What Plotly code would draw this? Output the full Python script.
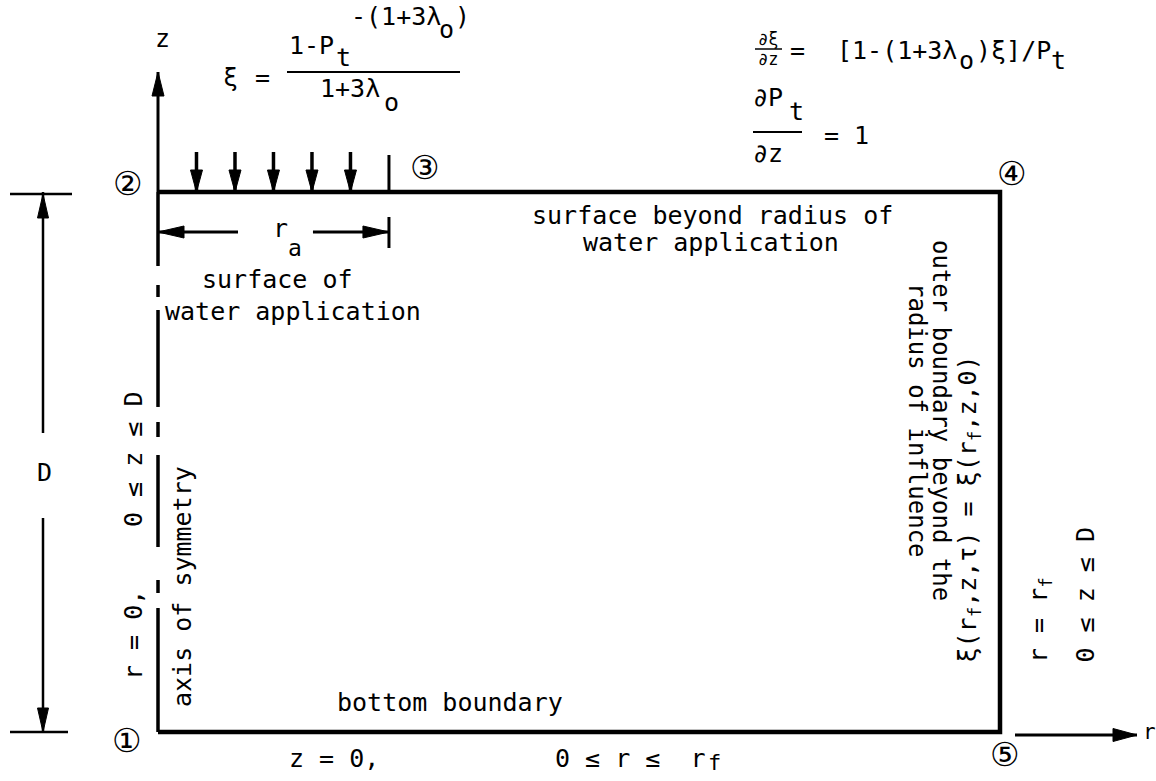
import plotly.graph_objects as go

# ---------------- data: the model domain (normalised units) ----------------
r_f = 1.0                      # outer radius of influence
D = 1.0                        # depth of the domain
r_a = 0.2743                   # radius of water application (fraction of r_f)
app_arrow_fracs = [1/6, 2/6, 3/6, 4/6, 5/6]      # applied-water arrows along 0..r_a
node_labels = ["①", "②", "③", "④", "⑤"]
node_r = [0.0, 0.0, r_a, r_f, r_f]
node_z = [0.0, D, D, D, 0.0]
# visible pieces of the (broken) axis of symmetry, as fractions of D
axis_pieces = [(0.0, 0.2296), (0.2574, 0.2815), (0.3426, 0.5130), (0.5463, 0.5741),
               (0.6019, 0.7815), (0.8056, 0.8278), (0.8630, 1.0)]

# ---------------- drawing scale ----------------
W, H = 1156, 781
PXR, PXZ = 842.0, 540.0        # pixels per unit r and per unit z
X0, Y0 = 158.0, 732.0          # pixel position of r=0, z=0

def to_px(r, z):
    return X0 + r * PXR, Y0 - z * PXZ

def to_dat(x, y):
    return (x - X0) / PXR, (Y0 - y) / PXZ

MONO = "DejaVu Sans Mono"
BLACK = "black"
fig = go.Figure()

def seg(p0, p1, width=3.0):
    (x0, y0), (x1, y1) = p0, p1
    fig.add_trace(go.Scatter(x=[x0, x1], y=[y0, y1], mode="lines",
                             line=dict(color=BLACK, width=width), hoverinfo="skip"))

def head(tip, direction, L=22, Wd=11):
    """filled arrow head; tip in data units, direction/size in screen px"""
    tx, ty = to_px(*tip)
    dx, dy = direction
    n = (dx * dx + dy * dy) ** 0.5
    dx, dy = dx / n, dy / n
    bx, by = tx - dx * L, ty - dy * L
    px_, py_ = -dy, dx
    pts = [(tx, ty), (bx + px_ * Wd / 2, by + py_ * Wd / 2), (bx - px_ * Wd / 2, by - py_ * Wd / 2), (tx, ty)]
    d = [to_dat(x, y) for x, y in pts]
    fig.add_trace(go.Scatter(x=[p[0] for p in d], y=[p[1] for p in d], mode="lines",
                             fill="toself", fillcolor=BLACK, line=dict(color=BLACK, width=1),
                             hoverinfo="skip"))

def off(p, dxp, dyp):
    x, y = to_px(*p)
    return to_dat(x + dxp, y + dyp)

ann = []
def txt(x, y, text, size=25, angle=0, xa="center", ya="middle", family=MONO):
    r, z = to_dat(x, y)
    ann.append(dict(x=r, y=z, xref="x", yref="y", text=text, showarrow=False,
                    textangle=angle, xanchor=xa, yanchor=ya,
                    font=dict(family=family, size=size, color=BLACK)))

# ---------------- domain boundary ----------------
fig.add_trace(go.Scatter(x=[0, r_f, r_f, 0], y=[D, D, 0, 0], mode="lines",
                         line=dict(color=BLACK, width=4.5), hoverinfo="skip"))
for z0, z1 in axis_pieces:
    seg((0, z0 * D), (0, z1 * D), width=3.5)

# z axis (continuation of the axis of symmetry)
z_tip = off((0, D), 0, -120)
seg((0, D), z_tip, width=3)
head(z_tip, (0, -1), L=24, Wd=12)

# r axis
r_start = off((r_f, 0), 15, 3)
r_tip = off((r_f, 0), 137, 3)
seg(r_start, r_tip, width=3)
head(r_tip, (1, 0), L=24, Wd=13)
tx, ty = to_px(*r_tip)
txt(1149, ty - 3, "r", 21)

# water application arrows
for f in app_arrow_fracs:
    top = off((f * r_a, D), 0, -40)
    seg(top, (f * r_a, D), width=3.5)
    head((f * r_a, D), (0, 1), L=22, Wd=12)
seg((r_a, D), off((r_a, D), 0, -37), width=3)

# r_a dimension
ya = -40
seg(off((0, D), 0, -ya), off((0, D), 80, -ya), width=3)
head(off((0, D), 0, -ya), (-1, 0), L=26, Wd=12)
seg(off((r_a, D), -76, -ya), off((r_a, D), 0, -ya), width=3)
head(off((r_a, D), 0, -ya), (1, 0), L=26, Wd=12)
seg(off((r_a, D), 0, 25), off((r_a, D), 0, 56), width=3)
txt(280, 228, "r", 25)
txt(295, 248, "a", 23)

# D dimension (line broken around the label)
xd = -115
seg(off((0, D), xd, 0), off((0, D), xd, 241), width=2.5)
seg(off((0, 0), xd, 0), off((0, 0), xd, -214), width=2.5)
head(off((0, D), xd, 2), (0, -1), L=24, Wd=11)
head(off((0, 0), xd, 0), (0, 1), L=24, Wd=11)
seg(off((0, D), -148, 2), off((0, D), -86, 2), width=2.5)
seg(off((0, 0), -148, 0), off((0, 0), -90, 0), width=2.5)
txt(44, 472, "D", 25)

# node numbers
node_shift = [(-31, 8), (-30, -9), (36, -25), (12, -19), (5, 22)]
for lab, r, z, (sx, sy) in zip(node_labels, node_r, node_z, node_shift):
    x, y = to_px(r, z)
    txt(x + sx, y + sy, lab, 33, family="DejaVu Sans")

# ---------------- equations ----------------
txt(162, 38, "z", 25)
# xi = (1 - Pt^-(1+3l0)) / (1+3l0)
txt(230, 77, "ξ", 25)
txt(262, 77, "=", 25)
txt(287, 45, "1-P", 25, xa="left")
txt(343, 57, "t", 25)
txt(349, 16, "-(1+3λ", 25, xa="left")
txt(446, 29, "o", 25)
txt(462, 16, ")", 25)
seg(to_dat(287, 72), to_dat(460, 72), width=2)
txt(318, 88, "1+3λ", 25, xa="left")
txt(391, 102, "o", 25)

# d xi / dz = [1-(1+3l0) xi]/Pt
txt(768, 39, "∂ξ", 17)
txt(768, 59, "∂z", 17)
seg(to_dat(755, 49), to_dat(782, 49), width=1.5)
txt(797, 50, "=", 25)
txt(835, 50, "[1-(1+3λ", 25, xa="left")
txt(966, 60, "o", 25)
txt(974, 50, ")ξ]/P", 25, xa="left")
txt(1058, 60, "t", 25)
# d Pt / dz = 1
txt(768, 97, "∂P", 25)
txt(796, 111, "t", 25)
seg(to_dat(753, 132), to_dat(802, 132), width=2)
txt(768, 153, "∂z", 25)
txt(822, 135, "= 1", 25, xa="left")

# ---------------- boundary descriptions ----------------
txt(530, 215, "surface beyond radius of", 25, xa="left")
txt(530 + 12 * 15.05, 242, "water application", 25)
txt(277, 279, "surface of", 25)
txt(163, 311, "water application", 25, xa="left")
txt(941, 420, "outer boundary beyond the", 24, angle=90)
txt(917, 420, "radius of influence", 24, angle=90)
txt(968, 665, "ξ(r<sub>f</sub>,z,τ) = ξ(r<sub>f</sub>,z,0)", 25, angle=-90, ya="bottom")
txt(1040, 665, "r = r<sub>f</sub>", 25, angle=-90, ya="bottom")
txt(1085, 665, "0 ≤ z ≤ D", 25, angle=-90, ya="bottom")
txt(133, 635, "r = 0,", 25, angle=-90)
txt(133, 460, "0 ≤ z ≤ D", 25, angle=-90)
txt(182, 587, "axis of symmetry", 25, angle=-90)
txt(450, 702, "bottom boundary", 25)
txt(287, 758, "z = 0,", 25, xa="left")
txt(553, 758, "0 ≤ r ≤  r", 25, xa="left")
txt(714, 762, "f", 22)

xr = to_dat(0, 0)[0], to_dat(W, 0)[0]
yr = to_dat(0, H)[1], to_dat(0, 0)[1]
fig.update_layout(
    width=W, height=H, margin=dict(l=0, r=0, t=0, b=0),
    paper_bgcolor="white", plot_bgcolor="white", showlegend=False,
    xaxis=dict(range=list(xr), visible=False, fixedrange=True),
    yaxis=dict(range=list(yr), visible=False, fixedrange=True),
    annotations=ann,
)
fig.write_html("out.html", config={"displayModeBar": False},
               post_script="document.body.style.margin='0px';document.body.style.overflow='hidden';")
